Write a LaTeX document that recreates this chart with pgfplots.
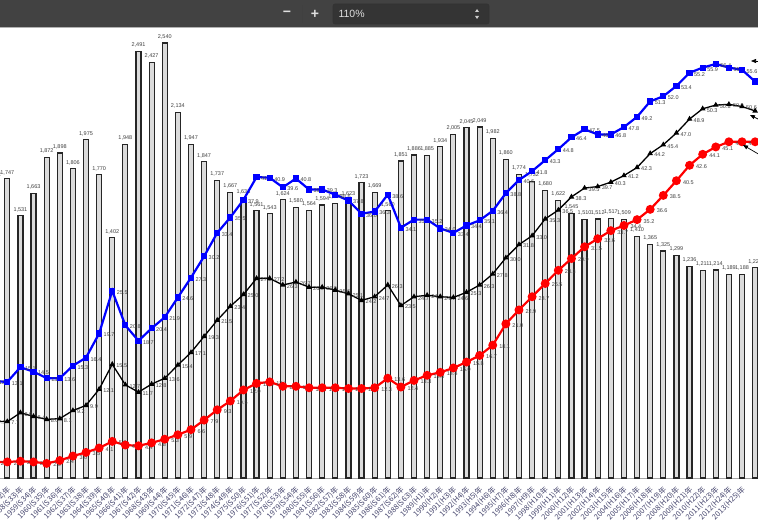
\documentclass[border=0pt]{standalone}
\usepackage{pgfplots}
\pgfplotsset{compat=1.18}
\usepackage{pgfplotstable}
\usetikzlibrary{arrows.meta}
\usepackage{fontspec}
\setmainfont{Liberation Sans}
\newfontfamily\jp{Noto Sans CJK JP}
\definecolor{tb}{RGB}{66,66,66}
\definecolor{tbbox}{RGB}{52,52,52}
\definecolor{ticktxt}{RGB}{70,70,110}

\pgfplotstableread{
i bar blue black red
-1 1732 13.2 7.7 2.2
0 1747 13.1 7.7 2.2
1 1531 15.1 8.9 2.3
2 1663 14.5 8.4 2.2
3 1872 13.6 8.0 2.0
4 1898 13.6 8.1 2.4
5 1806 15.3 9.2 3.0
6 1975 16.4 9.9 3.5
7 1770 19.7 12.1 4.1
8 1402 25.5 15.5 5.0
9 1948 20.8 12.7 4.5
10 2491 18.7 11.7 4.4
11 2427 20.4 12.8 4.8
12 2540 21.9 13.6 5.3
13 2134 24.6 15.4 5.9
14 1947 27.3 17.1 6.6
15 1847 30.2 19.3 7.9
16 1737 33.4 21.5 9.3
17 1667 35.5 23.4 10.5
18 1633 37.9 25.0 12.0
19 1561 41.0 27.2 12.9
20 1543 40.9 27.2 13.1
21 1624 39.6 26.3 12.5
22 1580 40.8 26.7 12.5
23 1564 39.3 26.0 12.3
24 1594 39.3 26.0 12.3
25 1605 38.6 25.6 12.3
26 1623 37.8 25.1 12.2
27 1723 36.0 24.2 12.2
28 1669 36.3 24.7 12.3
29 1560 38.6 26.3 13.6
30 1851 34.1 23.5 12.4
31 1886 35.2 24.7 13.3
32 1885 35.2 24.9 14.0
33 1934 34.0 24.7 14.4
34 2005 33.4 24.6 15.0
35 2045 34.4 25.3 15.8
36 2049 35.1 26.3 16.7
37 1982 36.4 27.8 18.1
38 1860 38.8 30.0 21.0
39 1774 40.6 31.8 22.9
40 1732 41.8 33.0 24.7
41 1680 43.3 35.3 26.5
42 1622 44.8 36.5 28.3
43 1545 46.4 38.3 29.9
44 1510 47.5 39.5 31.5
45 1512 46.8 39.7 32.6
46 1517 46.8 40.3 33.7
47 1509 47.8 41.2 34.4
48 1410 49.2 42.3 35.2
49 1365 51.3 44.2 36.6
50 1325 52.0 45.4 38.5
51 1299 53.4 47.0 40.5
52 1236 55.2 48.9 42.6
53 1211 55.9 50.3 44.1
54 1214 56.4 50.8 45.1
55 1189 55.9 50.9 45.8
56 1188 55.6 50.6 45.8
57 1227 54.0 50.0 45.8
}\data

\pgfplotsset{
  common/.style={
    at={(-12.38pt,51.9pt)}, anchor=south west,
    width=787.2pt, height=514pt, scale only axis,
    xmin=-1.5, xmax=58.5,
  },
  linelab/.style={
    nodes near coords,
    every node near coord/.style={anchor=west, xshift=#1, yshift=-1.5pt,
      font=\fontsize{5.5}{6}\selectfont, text=black!75, inner sep=0.5pt,
      /pgf/number format/fixed, /pgf/number format/precision=1,
      /pgf/number format/fixed zerofill, /pgf/number format/assume math mode=true},
  },
}

\begin{document}
\begin{tikzpicture}[x=1pt,y=1pt]
\clip (0,0) rectangle (758,530);
\fill[white] (0,0) rectangle (758,530);

\begin{axis}[common,
  ybar, bar width=5pt, ymin=0, ymax=3000,
  axis x line*=bottom, axis y line=none,
  x axis line style={draw=gray!70, line width=0.9pt},
  xtick={0,...,56}, major tick length=0pt,
  xticklabels={1957(S32)年,1958(S33)年,1959(S34)年,1960(S35)年,1961(S36)年,1962(S37)年,1963(S38)年,1964(S39)年,1965(S40)年,1966(S41)年,1967(S42)年,1968(S43)年,1969(S44)年,1970(S45)年,1971(S46)年,1972(S47)年,1973(S48)年,1974(S49)年,1975(S50)年,1976(S51)年,1977(S52)年,1978(S53)年,1979(S54)年,1980(S55)年,1981(S56)年,1982(S57)年,1983(S58)年,1984(S59)年,1985(S60)年,1986(S61)年,1987(S62)年,1988(S63)年,1989(H1)年,1990(H2)年,1991(H3)年,1992(H4)年,1993(H5)年,1994(H6)年,1995(H7)年,1996(H8)年,1997(H9)年,1998(H10)年,1999(H11)年,2000(H12)年,2001(H13)年,2002(H14)年,2003(H15)年,2004(H16)年,2005(H17)年,2006(H18)年,2007(H19)年,2008(H20)年,2009(H21)年,2010(H22)年,2011(H23)年,2012(H24)年,2013(H25)年},
  xticklabel style={xshift=2pt, yshift=-10pt, rotate=45, anchor=east, inner sep=0pt,
    font=\jp\fontsize{7.5}{8}\selectfont, text=ticktxt},
  nodes near coords,
  every node near coord/.style={font=\fontsize{5.5}{6}\selectfont, text=black!75,
    /pgf/number format/1000 sep={,}, /pgf/number format/assume math mode=true},
]
\addplot[draw=black!85, line width=1.2pt, fill=black!14] table[x=i,y=bar]{\data};
\end{axis}

\begin{axis}[common, ymin=0, ymax=70, axis lines=none]
\addplot[black, line width=1.3pt, mark=triangle*, mark size=2pt, linelab=3pt] table[x=i,y=black]{\data};
\addplot[red, line width=2.2pt, mark=*, mark size=3.3pt, linelab=5pt] table[x=i,y=red]{\data};
\addplot[blue, line width=2.2pt, mark=square*, mark size=2pt, linelab=3pt] table[x=i,y=blue]{\data};
\end{axis}

% annotation arrows at the right edge
\draw[black, line width=0.7pt, -{Triangle[length=5pt,width=4pt]}] (760,469) -- (751,469);
\draw[black, line width=0.7pt, -{Triangle[length=5pt,width=4pt]}] (760,410) -- (750,415);
\draw[black, line width=0.7pt, -{Triangle[length=5pt,width=4pt]}] (760,375) -- (743,385);

% viewer toolbar
\fill[tb] (0,502) rectangle (758,530);
\draw[gray!60, line width=1pt] (0,502) -- (758,502);
\node[text=white!88!black, font=\fontsize{14}{14}\selectfont\bfseries] at (287,516) {−};
\draw[black!75, line width=0.8pt] (302,507) -- (302,525);
\node[text=white!88!black, font=\fontsize{14}{14}\selectfont\bfseries] at (315,516) {+};
\fill[tbbox, rounded corners=2pt] (333,506) rectangle (489,526);
\draw[black!80, rounded corners=2pt, line width=0.6pt] (333,506) rectangle (489,526);
\node[anchor=west, text=white!88!black, font=\fontsize{10.5}{11}\selectfont] at (335,516) {110\%};
\fill[white!80!black] (475,518) -- (479,518) -- (477,521) -- cycle;
\fill[white!80!black] (475,514) -- (479,514) -- (477,511) -- cycle;
\end{tikzpicture}
\end{document}
